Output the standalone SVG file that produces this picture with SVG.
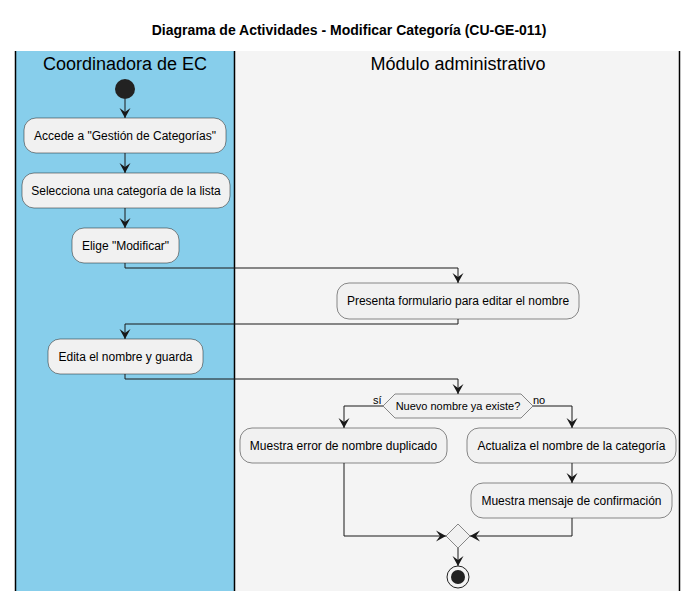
<svg xmlns="http://www.w3.org/2000/svg" width="698" height="601" viewBox="0 0 698 601">
<defs>
<style>
.t{font-family:"Liberation Sans",Arial,sans-serif;fill:#000;}
.box{fill:#F1F1F1;stroke:#181818;stroke-width:0.5;}
.c{fill:none;stroke:#181818;stroke-width:1;}
.lbl{font-size:12px;text-anchor:middle;}
.lane{font-size:18px;text-anchor:middle;}
</style>
<marker id="ah" markerUnits="userSpaceOnUse" markerWidth="12" markerHeight="12" refX="10" refY="5.5" orient="auto" viewBox="0 0 12 11">
<path d="M0,0 L10,5.5 L0,11 L4,5.5 Z" fill="#181818"/>
</marker>
</defs>
<rect width="698" height="601" fill="#FFFFFF"/>
<text class="t" x="349" y="35" font-size="14" font-weight="bold" text-anchor="middle">Diagrama de Actividades - Modificar Categoría (CU-GE-011)</text>
<g id="lanes">
<rect x="15.5" y="51" width="219" height="540" fill="#87CEEB"/>
<rect x="234.5" y="51" width="445" height="540" fill="#F4F4F4"/>
<line x1="15.5" y1="51" x2="15.5" y2="591" stroke="#000" stroke-width="1.5"/>
<line x1="234.5" y1="51" x2="234.5" y2="591" stroke="#000" stroke-width="1.5"/>
<line x1="679.5" y1="51" x2="679.5" y2="591" stroke="#000" stroke-width="1.5"/>
<text class="t lane" x="125" y="70">Coordinadora de EC</text>
<text class="t lane" x="458" y="70">Módulo administrativo</text>
</g>
<g id="connectors">
<path class="c" d="M125,99 V118" marker-end="url(#ah)"/>
<path class="c" d="M125,153 V173" marker-end="url(#ah)"/>
<path class="c" d="M125,208 V228" marker-end="url(#ah)"/>
<path class="c" d="M125,263 V268 H458 V283" marker-end="url(#ah)"/>
<path class="c" d="M458,319 V324 H125 V339" marker-end="url(#ah)"/>
<path class="c" d="M125,374 V379 H458 V394" marker-end="url(#ah)"/>
<path class="c" d="M383,406 H344 V428" marker-end="url(#ah)"/>
<path class="c" d="M533,406 H572 V428" marker-end="url(#ah)"/>
<path class="c" d="M572,463 V483" marker-end="url(#ah)"/>
<path class="c" d="M344,463 V536 H446" marker-end="url(#ah)"/>
<path class="c" d="M572,518 V536 H470" marker-end="url(#ah)"/>
<path class="c" d="M458,548 V566" marker-end="url(#ah)"/>
<text class="t" x="373" y="404" font-size="11">sí</text>
<text class="t" x="533" y="404" font-size="11">no</text>
</g>
<g id="start"><circle cx="125" cy="89" r="10" fill="#222222"/></g>
<g id="n1"><rect class="box" x="24" y="118" width="202" height="35" rx="12"/><text class="t lbl" x="125" y="140">Accede a "Gestión de Categorías"</text></g>
<g id="n2"><rect class="box" x="22" y="173" width="208" height="35" rx="12"/><text class="t lbl" x="126" y="195">Selecciona una categoría de la lista</text></g>
<g id="n3"><rect class="box" x="72" y="228" width="107" height="35" rx="12"/><text class="t lbl" x="125.5" y="250">Elige "Modificar"</text></g>
<g id="n4"><rect class="box" x="337" y="283" width="242" height="36" rx="12"/><text class="t lbl" x="458" y="305">Presenta formulario para editar el nombre</text></g>
<g id="n5"><rect class="box" x="48" y="339" width="155" height="35" rx="12"/><text class="t lbl" x="125.5" y="361">Edita el nombre y guarda</text></g>
<g id="d1"><polygon points="383,406 395,394 521,394 533,406 521,418 395,418" fill="#F1F1F1" stroke="#181818" stroke-width="0.5"/><text class="t" x="458" y="410" font-size="11" text-anchor="middle">Nuevo nombre ya existe?</text></g>
<g id="n6"><rect class="box" x="240" y="428" width="207" height="35" rx="12"/><text class="t lbl" x="343.5" y="450">Muestra error de nombre duplicado</text></g>
<g id="n7"><rect class="box" x="467" y="428" width="209" height="35" rx="12"/><text class="t lbl" x="571.5" y="450">Actualiza el nombre de la categoría</text></g>
<g id="n8"><rect class="box" x="471" y="483" width="201" height="35" rx="12"/><text class="t lbl" x="571.5" y="505">Muestra mensaje de confirmación</text></g>
<g id="merge"><polygon points="458,524 470,536 458,548 446,536" fill="#F1F1F1" stroke="#181818" stroke-width="0.5"/></g>
<g id="end"><circle cx="458" cy="577" r="11" fill="none" stroke="#222222" stroke-width="1"/><circle cx="458" cy="577" r="7" fill="#222222"/></g>
</svg>
